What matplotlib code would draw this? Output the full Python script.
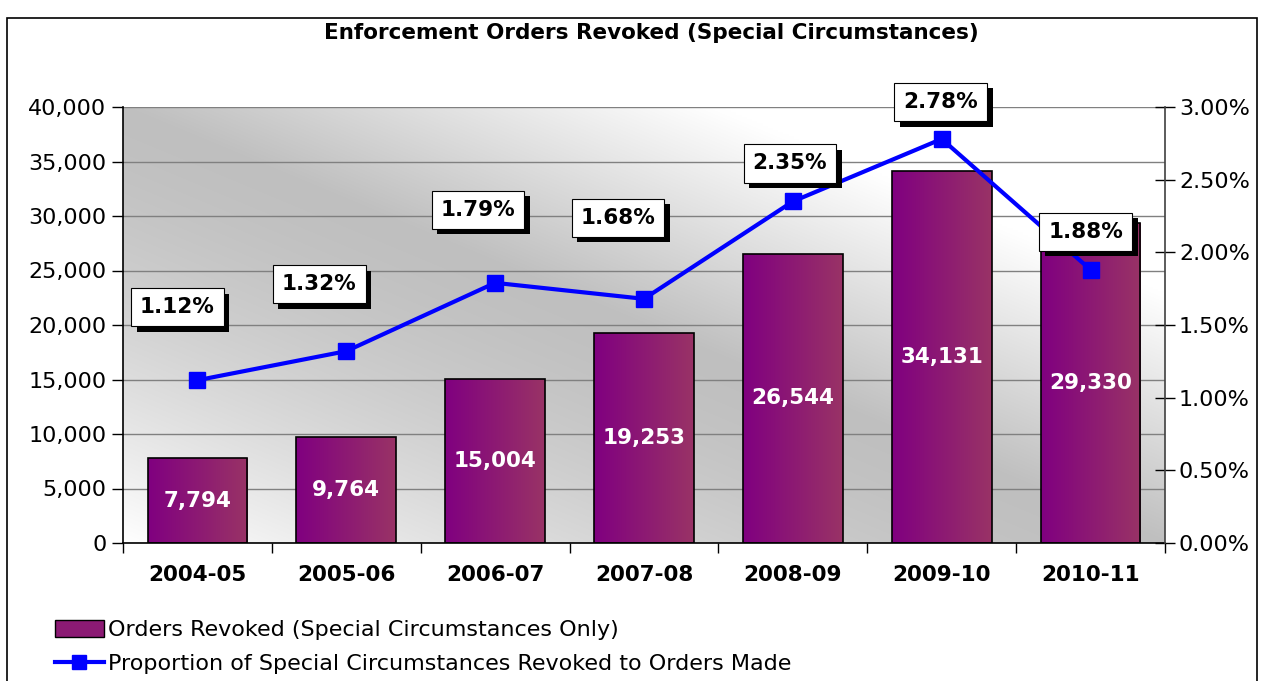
import numpy as np
import matplotlib
matplotlib.use('Agg')
import matplotlib.pyplot as plt
import matplotlib.patheffects as pe
from matplotlib.patches import Rectangle
from matplotlib.lines import Line2D
from matplotlib.ticker import FuncFormatter, FixedLocator

years = ['2004-05', '2005-06', '2006-07', '2007-08', '2008-09', '2009-10', '2010-11']
orders_revoked = [7794, 9764, 15004, 19253, 26544, 34131, 29330]
proportion_pct = [1.12, 1.32, 1.79, 1.68, 2.35, 2.78, 1.88]
# label offsets from the markers, in pixels
label_offsets = [(-20, 73), (-27, 67), (-17, 73), (-26, 81), (-3, 38), (-1, 37), (-5, 38)]

title = 'Enforcement Orders Revoked (Special Circumstances)'
bar_name = 'Orders Revoked (Special Circumstances Only)'
line_name = 'Proportion of Special Circumstances Revoked to Orders Made'

plt.rcParams['font.family'] = ['DejaVu Sans']

fig = plt.figure(figsize=(12.61, 6.81), dpi=100)
W, H = 1261.0, 681.0
pw, ph = 1042.0, 436.0

# chart frame
fig.patches.append(Rectangle((7 / W, -0.1), 1250 / W, 1.1 - 18 / H, transform=fig.transFigure,
                             fill=False, edgecolor='black', linewidth=1.2))

ax = fig.add_axes([123 / W, 1 - 543 / H, pw / W, ph / H])
x = np.arange(len(years))

# grey band along the top-left/bottom-right diagonal, fading to white
# quickly towards the top-right corner and slowly towards the bottom-left
X, Y = np.meshgrid(np.linspace(0, pw, 400), np.linspace(ph, 0, 200))
d = (X * ph + (Y - ph) * pw) / np.hypot(pw, ph)
dmax = pw * ph / np.hypot(pw, ph)
gray = np.where(d > 0,
                0.75 + 0.25 * np.clip(d / 230.0, 0, 1),
                0.75 + 0.25 * (np.abs(d) / dmax) ** 1.6)
bg = np.dstack([gray, gray, gray])
ax.imshow(bg, extent=[0, 1, 0, 1], transform=ax.transAxes, aspect='auto', zorder=0,
          interpolation='bilinear')

# bars with horizontal purple gradient
c0 = np.array([128, 0, 128]) / 255.0
c1 = np.array([153, 51, 102]) / 255.0
t = np.linspace(0, 1, 100)
grad = (c0[None, :] * (1 - t[:, None]) + c1[None, :] * t[:, None])[None, :, :]
bw = 0.67
bars = ax.bar(x, orders_revoked, width=bw, facecolor='none', edgecolor='black',
              linewidth=1.2, zorder=3)
for b in bars:
    im = ax.imshow(grad, extent=[b.get_x(), b.get_x() + bw, 0, b.get_height()],
                   aspect='auto', zorder=2.5, interpolation='bilinear')
    im.set_clip_path(b)
for xi, val in zip(x, orders_revoked):
    ax.text(xi, val / 2, f'{val:,}', color='white', fontsize=15.5, fontweight='bold',
            ha='center', va='center', zorder=4)
ax.set_xlim(-0.5, len(years) - 0.5)
ax.set_ylim(0, 40000)

ax.yaxis.set_major_locator(FixedLocator(np.arange(0, 40001, 5000)))
ax.yaxis.set_major_formatter(FuncFormatter(lambda v, p: f'{int(v):,}'))
ax.grid(axis='y', color='#808080', linewidth=1)
for gl in ax.get_ygridlines():
    gl.set_zorder(1)
ax.tick_params(axis='y', direction='out', length=8, width=1, labelsize=16, pad=4)
ax.set_xticks(x)
ax.set_xticklabels(years, fontsize=15.5, fontweight='bold')
ax.set_xticks(np.arange(-0.5, len(years)), minor=True)
ax.tick_params(axis='x', which='major', length=0, pad=16)
ax.tick_params(axis='x', which='minor', direction='out', length=7, width=1)
ax.spines['top'].set_visible(False)
ax.spines['right'].set_visible(False)
ax.spines['left'].set_linewidth(1.2)
ax.spines['bottom'].set_linewidth(1.2)

ax2 = ax.twinx()
ax2.set_ylim(0, 3.0)
ax2.plot(x, proportion_pct, color='#0000ff', linewidth=3, marker='s', markersize=11,
         zorder=5)
ax2.yaxis.set_major_locator(FixedLocator(np.arange(0, 3.01, 0.5)))
ax2.yaxis.set_major_formatter(FuncFormatter(lambda v, p: f'{v:.2f}%'))
ax2.tick_params(axis='y', direction='inout', length=14, width=1, labelsize=16, pad=3)
for sp in ['top', 'left', 'bottom']:
    ax2.spines[sp].set_visible(False)
ax2.spines['right'].set_color('#404040')
ax2.spines['right'].set_linewidth(1.2)

for xi, val, off in zip(x, proportion_pct, label_offsets):
    a = ax2.annotate(f'{val:.2f}%', xy=(xi, val), xytext=off, textcoords='offset pixels',
                     ha='center', va='center', fontsize=15.5, fontweight='bold', zorder=6,
                     bbox=dict(boxstyle='square,pad=0.42', facecolor='white',
                               edgecolor='black', linewidth=0.8))
    a.get_bbox_patch().set_path_effects([
        pe.SimplePatchShadow(offset=(4, -4), shadow_rgbFace='black', alpha=1.0),
        pe.Normal()])

fig.text(651 / W, 1 - 33 / H, title, ha='center', va='center', fontsize=15.5,
         fontweight='bold')

# legend
handles = [Rectangle((0, 0), 1, 1, facecolor='#8c1a74', edgecolor='black', linewidth=1),
           Line2D([], [], color='#0000ff', linewidth=3, marker='s', markersize=10)]
fig.legend(handles, [bar_name, line_name], loc='upper left',
           bbox_to_anchor=(46 / W, 1 - 611 / H), frameon=False,
           prop={'size': 16}, handlelength=2.2, handleheight=0.8,
           handletextpad=0.2, labelspacing=0.62, borderaxespad=0)

fig.savefig('out.png', dpi=100)
